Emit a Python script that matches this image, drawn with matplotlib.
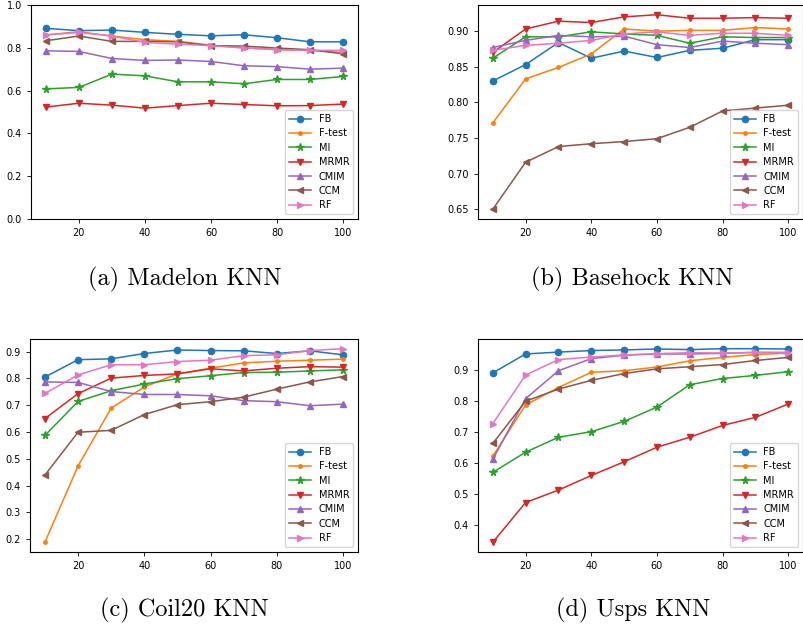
import matplotlib.pyplot as plt

# feature counts shared by all panels
n_features = [10, 20, 30, 40, 50, 60, 70, 80, 90, 100]
methods = ['FB', 'F-test', 'MI', 'MRMR', 'CMIM', 'CCM', 'RF']

# (a) Madelon KNN
madelon_fb = [0.891, 0.880, 0.883, 0.872, 0.863, 0.856, 0.861, 0.847, 0.828, 0.828]
madelon_ftest = [0.860, 0.875, 0.855, 0.838, 0.830, 0.812, 0.800, 0.792, 0.788, 0.778]
madelon_mi = [0.608, 0.615, 0.677, 0.669, 0.641, 0.641, 0.632, 0.652, 0.652, 0.666]
madelon_mrmr = [0.523, 0.541, 0.532, 0.518, 0.530, 0.541, 0.535, 0.529, 0.530, 0.537]
madelon_cmim = [0.786, 0.783, 0.750, 0.741, 0.743, 0.736, 0.716, 0.712, 0.700, 0.705]
madelon_ccm = [0.833, 0.855, 0.830, 0.830, 0.828, 0.810, 0.808, 0.799, 0.791, 0.772]
madelon_rf = [0.860, 0.872, 0.855, 0.825, 0.817, 0.810, 0.799, 0.791, 0.788, 0.788]

# (b) Basehock KNN
basehock_fb = [0.830, 0.853, 0.884, 0.862, 0.872, 0.863, 0.873, 0.876, 0.888, 0.888]
basehock_ftest = [0.771, 0.833, 0.849, 0.868, 0.903, 0.900, 0.901, 0.901, 0.905, 0.903]
basehock_mi = [0.862, 0.892, 0.892, 0.899, 0.896, 0.894, 0.883, 0.892, 0.891, 0.891]
basehock_mrmr = [0.870, 0.903, 0.914, 0.912, 0.920, 0.923, 0.918, 0.918, 0.919, 0.918]
basehock_cmim = [0.877, 0.887, 0.894, 0.892, 0.893, 0.881, 0.877, 0.886, 0.883, 0.881]
basehock_ccm = [0.650, 0.716, 0.738, 0.742, 0.745, 0.749, 0.765, 0.788, 0.792, 0.796]
basehock_rf = [0.873, 0.880, 0.883, 0.887, 0.896, 0.899, 0.894, 0.897, 0.897, 0.894]

# (c) Coil20 KNN
coil_fb = [0.805, 0.870, 0.873, 0.893, 0.906, 0.904, 0.903, 0.893, 0.903, 0.888]
coil_ftest = [0.188, 0.473, 0.689, 0.768, 0.817, 0.838, 0.858, 0.864, 0.868, 0.872]
coil_mi = [0.587, 0.714, 0.754, 0.779, 0.799, 0.810, 0.822, 0.823, 0.828, 0.832]
coil_mrmr = [0.650, 0.743, 0.801, 0.811, 0.817, 0.836, 0.828, 0.838, 0.844, 0.842]
coil_cmim = [0.787, 0.785, 0.751, 0.740, 0.740, 0.735, 0.717, 0.713, 0.698, 0.704]
coil_ccm = [0.439, 0.599, 0.606, 0.665, 0.702, 0.713, 0.730, 0.760, 0.787, 0.807]
coil_rf = [0.744, 0.813, 0.851, 0.851, 0.863, 0.868, 0.885, 0.888, 0.904, 0.911]

# (d) Usps KNN
usps_fb = [0.890, 0.951, 0.957, 0.962, 0.964, 0.967, 0.965, 0.968, 0.968, 0.967]
usps_ftest = [0.622, 0.787, 0.843, 0.892, 0.897, 0.909, 0.929, 0.940, 0.949, 0.954]
usps_mi = [0.570, 0.635, 0.683, 0.701, 0.734, 0.780, 0.852, 0.872, 0.882, 0.894]
usps_mrmr = [0.345, 0.473, 0.513, 0.560, 0.604, 0.651, 0.683, 0.721, 0.747, 0.790]
usps_cmim = [0.612, 0.807, 0.897, 0.936, 0.947, 0.951, 0.951, 0.953, 0.956, 0.956]
usps_ccm = [0.663, 0.799, 0.838, 0.866, 0.888, 0.903, 0.910, 0.917, 0.930, 0.940]
usps_rf = [0.727, 0.883, 0.933, 0.941, 0.948, 0.952, 0.955, 0.954, 0.956, 0.954]

captions = ['(a) Madelon KNN', '(b) Basehock KNN', '(c) Coil20 KNN', '(d) Usps KNN']

markers = ['o', '.', '*', 'v', '^', '<', '>']
colors = ['#1f77b4', '#ff7f0e', '#2ca02c', '#d62728', '#9467bd', '#8c564b', '#e377c2']

panels = [
    [madelon_fb, madelon_ftest, madelon_mi, madelon_mrmr, madelon_cmim, madelon_ccm, madelon_rf],
    [basehock_fb, basehock_ftest, basehock_mi, basehock_mrmr, basehock_cmim, basehock_ccm, basehock_rf],
    [coil_fb, coil_ftest, coil_mi, coil_mrmr, coil_cmim, coil_ccm, coil_rf],
    [usps_fb, usps_ftest, usps_mi, usps_mrmr, usps_cmim, usps_ccm, usps_rf],
]

W, H = 804, 626
fig = plt.figure(figsize=(W / 100, H / 100), dpi=100)

# axes boxes in pixels: left, top, right, bottom
boxes = [(31, 5, 358, 219), (478, 5, 803, 219),
         (30, 339, 358, 552), (478, 339, 803, 552)]
# caption centres in pixels
cap_pos = [(185, 279), (632, 279), (184, 610), (633, 610)]

for i, series in enumerate(panels):
    l, t, r, b = boxes[i]
    ax = fig.add_axes([l / W, 1 - b / H, (r - l) / W, (b - t) / H])
    for j, vals in enumerate(series):
        ms = 5.5 if markers[j] == '*' else (5 if markers[j] == '.' else 4.5)
        ax.plot(n_features, vals, marker=markers[j], color=colors[j],
                linewidth=1.1, markersize=ms, label=methods[j])
    if i == 0:
        ax.set_ylim(0, 1.0)
    ax.set_xticks([20, 40, 60, 80, 100])
    ax.tick_params(labelsize=7, length=3, width=0.6)
    for s in ax.spines.values():
        s.set_linewidth(0.8)
    ax.legend(loc='lower right', fontsize=7, handlelength=2.2,
              borderpad=0.4, labelspacing=0.45, framealpha=0.8)
    cx, cy = cap_pos[i]
    fig.text(cx / W, 1 - cy / H, captions[i], ha='center', va='center',
             fontsize=17.5, family='cmr10')

plt.savefig('out.png', dpi=100, facecolor='white')
plt.close()
